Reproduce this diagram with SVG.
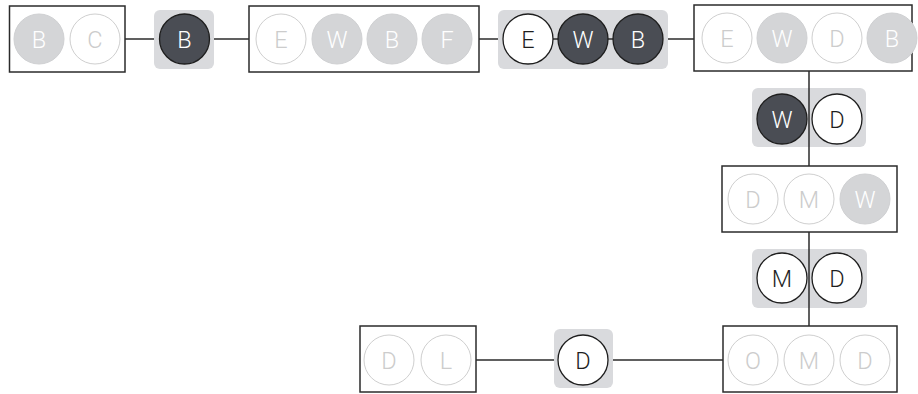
<svg xmlns="http://www.w3.org/2000/svg" width="918" height="394" viewBox="0 0 918 394">
<style>
.box{fill:#fff;stroke:#2b2b2b;stroke-width:1.5}
.pill{fill:#d9dadd;stroke:none}
.lw{fill:#fff;stroke:#cfcfcf;stroke-width:1}
.lg{fill:#d4d5d7;stroke:#cfd0d2;stroke-width:1}
.dk{fill:#4a4d54;stroke:#1e1e1e;stroke-width:1.3}
.wh{fill:#fff;stroke:#1e1e1e;stroke-width:1.3}
.edge{stroke:#2b2b2b;stroke-width:1.5;fill:none}
text{font-family:Roboto,"Liberation Sans",sans-serif;font-weight:300;font-size:23.5px;text-anchor:middle}
.tlw{fill:#cccccc}
.tlg{fill:#ffffff}
.tdk{fill:#ffffff}
.twh{fill:#1e1e1e}
</style>
<g id="connectors">
<line class="edge" x1="125" y1="39" x2="249" y2="39"/>
<line class="edge" x1="479" y1="39" x2="694" y2="39"/>
<line class="edge" x1="809" y1="71" x2="809" y2="166"/>
<line class="edge" x1="809" y1="232" x2="809" y2="326"/>
<line class="edge" x1="476" y1="360" x2="723" y2="360"/>
</g>
<g id="node-bc">
<rect class="box" x="9.5" y="6" width="115.5" height="66"/>
<circle class="lg" cx="39" cy="39" r="25"/><text class="tlg" x="39" y="47.5">B</text>
<circle class="lw" cx="95" cy="39" r="25"/><text class="tlw" x="95" y="47.5">C</text>
</g>
<g id="node-b">
<rect class="pill" x="154" y="10" width="60" height="59" rx="6"/>
<circle class="dk" cx="184.5" cy="39" r="25"/><text class="tdk" x="184.5" y="47.5">B</text>
</g>
<g id="node-ewbf">
<rect class="box" x="249" y="6" width="230" height="66"/>
<circle class="lw" cx="281" cy="39" r="25"/><text class="tlw" x="281" y="47.5">E</text>
<circle class="lg" cx="337" cy="39" r="25"/><text class="tlg" x="337" y="47.5">W</text>
<circle class="lg" cx="392" cy="39" r="25"/><text class="tlg" x="392" y="47.5">B</text>
<circle class="lg" cx="447" cy="39" r="25"/><text class="tlg" x="447" y="47.5">F</text>
</g>
<g id="node-ewb">
<rect class="pill" x="498" y="10" width="170" height="59" rx="6"/>
<line class="edge" x1="503" y1="39" x2="663" y2="39"/>
<circle class="wh" cx="528" cy="39" r="25"/><text class="twh" x="528" y="47.5">E</text>
<circle class="dk" cx="583" cy="39" r="25"/><text class="tdk" x="583" y="47.5">W</text>
<circle class="dk" cx="638" cy="39" r="25"/><text class="tdk" x="638" y="47.5">B</text>
</g>
<g id="node-ewdb">
<rect class="box" x="694" y="5" width="218" height="66"/>
<circle class="lw" cx="727" cy="38" r="25"/><text class="tlw" x="727" y="46.5">E</text>
<circle class="lg" cx="782" cy="38" r="25"/><text class="tlg" x="782" y="46.5">W</text>
<circle class="lw" cx="837" cy="38" r="25"/><text class="tlw" x="837" y="46.5">D</text>
<circle class="lg" cx="892" cy="38" r="25"/><text class="tlg" x="892" y="46.5">B</text>
</g>
<g id="node-wd">
<rect class="pill" x="752" y="88" width="114" height="59" rx="6"/>
<circle class="dk" cx="782" cy="119" r="25"/><text class="tdk" x="782" y="127.5">W</text>
<circle class="wh" cx="837" cy="119" r="25"/><text class="twh" x="837" y="127.5">D</text>
<line class="edge" x1="809" y1="88" x2="809" y2="147"/>
</g>
<g id="node-dmw">
<rect class="box" x="722" y="166" width="175" height="66"/>
<circle class="lw" cx="753" cy="199" r="25"/><text class="tlw" x="753" y="207.5">D</text>
<circle class="lw" cx="809" cy="199" r="25"/><text class="tlw" x="809" y="207.5">M</text>
<circle class="lg" cx="865" cy="199" r="25"/><text class="tlg" x="865" y="207.5">W</text>
</g>
<g id="node-md">
<rect class="pill" x="752" y="249" width="115" height="59" rx="6"/>
<circle class="wh" cx="782" cy="278" r="25"/><text class="twh" x="782" y="286.5">M</text>
<circle class="wh" cx="837" cy="278" r="25"/><text class="twh" x="837" y="286.5">D</text>
<line class="edge" x1="809" y1="249" x2="809" y2="308"/>
</g>
<g id="node-omd">
<rect class="box" x="723" y="326" width="174" height="66"/>
<circle class="lw" cx="753" cy="360" r="25"/><text class="tlw" x="753" y="368.5">O</text>
<circle class="lw" cx="809" cy="360" r="25"/><text class="tlw" x="809" y="368.5">M</text>
<circle class="lw" cx="865" cy="360" r="25"/><text class="tlw" x="865" y="368.5">D</text>
</g>
<g id="node-d">
<rect class="pill" x="554" y="329" width="59" height="59" rx="6"/>
<circle class="wh" cx="583" cy="360" r="25"/><text class="twh" x="583" y="368.5">D</text>
</g>
<g id="node-dl">
<rect class="box" x="360" y="326" width="116" height="66"/>
<circle class="lw" cx="389" cy="360" r="25"/><text class="tlw" x="389" y="368.5">D</text>
<circle class="lw" cx="446" cy="360" r="25"/><text class="tlw" x="446" y="368.5">L</text>
</g>
</svg>
